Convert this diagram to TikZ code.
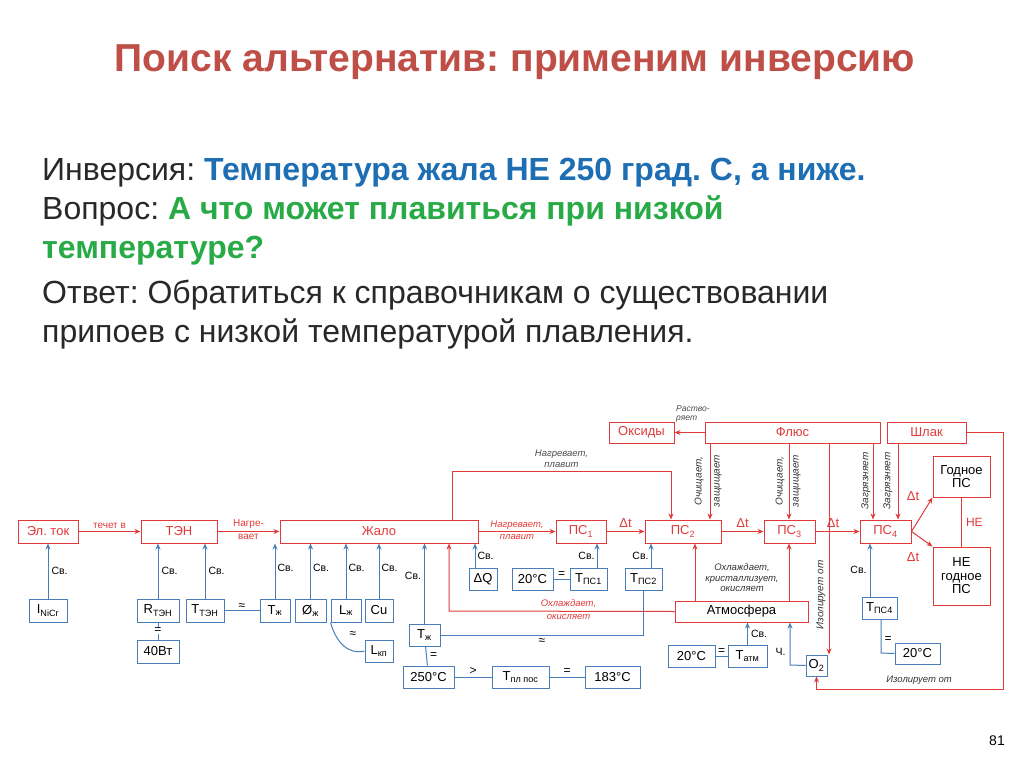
\documentclass[tikz,border=0pt]{standalone}
\usepackage{fontspec}
\setmainfont{Liberation Sans}
\usetikzlibrary{calc,arrows.meta}
\frenchspacing
\definecolor{rd}{RGB}{226,58,58}
\definecolor{bl}{RGB}{74,126,187}
\definecolor{tt}{RGB}{190,78,70}
\definecolor{tx}{RGB}{40,40,40}
\definecolor{tb}{RGB}{30,110,180}
\definecolor{tg}{RGB}{40,170,70}
\newcommand\mysb[1]{\textsubscript{#1}}
\newcommand\bx[7]{\node[#6,minimum width={(#4-#2)*1pt},minimum height={(#5-#3)*1pt}] (#1) at ({(#2+#4)/2},{(#3+#5)/2}) {#7};}
\tikzset{
 rb/.style={draw=rd,line width=1pt,text=rd,inner sep=0pt,font=\fontsize{13}{13.5}\selectfont,align=center},
 bb/.style={draw=bl,line width=1pt,text=black,inner sep=0pt,font=\fontsize{13}{13.5}\selectfont},
 ra/.style={draw=rd,line width=1pt,-{Stealth[length=6pt,width=5pt]}},
 rl/.style={draw=rd,line width=1pt},
 ba/.style={draw=bl,line width=1pt,-{Stealth[length=6pt,width=5pt]}},
 bl/.style={draw=bl,line width=1pt},
 lab/.style={font=\fontsize{9.5}{10.5}\selectfont\itshape,text=rd,inner sep=0pt,align=center},
 vl/.style={font=\fontsize{10}{10}\selectfont\itshape,text=black!80,inner sep=0pt,rotate=90},
 labn/.style={font=\fontsize{10.5}{11}\selectfont,text=black,inner sep=0pt},
 sym/.style={font=\fontsize{12}{12}\selectfont,text=black,inner sep=0pt},
 dt/.style={font=\fontsize{13}{13}\selectfont,text=rd,inner sep=0pt},
}
\begin{document}
\begin{tikzpicture}[x=1pt,y=-1pt]
\useasboundingbox[fill=white] (0,0) rectangle (1024,767);
\node[text=tt,font=\fontsize{39}{40}\selectfont\bfseries] (title) at (515,62) {Поиск альтернатив: применим инверсию};
\node[anchor=north west,text=tx,font=\fontsize{32}{39}\selectfont,align=left,inner sep=0pt] (body) at (42,158)
{Инверсия: \textcolor{tb}{\bfseries Температура жала НЕ 250 град. С, а ниже.}\\
Вопрос: \textcolor{tg}{\bfseries А что может плавиться при низкой}\\
\textcolor{tg}{\bfseries температуре?}\\[6pt]
Ответ: Обратиться к справочникам о существовании\\
припоев с низкой температурой плавления.};
\node[font=\fontsize{14}{14}\selectfont] (pg) at (997,741) {81};
% red boxes
\bx{el}{18}{520}{78}{543}{rb}{Эл. ток}
\bx{ten}{141}{520}{217}{543}{rb}{ТЭН}
\bx{zh}{280}{520}{478}{543}{rb}{Жало}
\bx{ps1}{556}{520}{606}{543}{rb}{ПС\mysb{1}}
\bx{ps2}{645}{520}{721}{543}{rb}{ПС\mysb{2}}
\bx{ps3}{764}{520}{815}{543}{rb}{ПС\mysb{3}}
\bx{ps4}{860}{520}{911}{543}{rb}{ПС\mysb{4}}
\bx{god}{933}{456}{990}{497}{rb}{\textcolor{black}{Годное}\\\textcolor{black}{ПС}}
\bx{ngod}{933}{547}{990}{605}{rb}{\textcolor{black}{НЕ}\\\textcolor{black}{годное}\\\textcolor{black}{ПС}}
\bx{ox}{609}{422}{674}{443}{rb}{Оксиды}
\bx{flux}{705}{422}{880}{443}{rb}{Флюс}
\bx{slag}{887}{422}{966}{443}{rb}{Шлак}
\bx{atm}{675}{601}{808}{622}{rb}{\textcolor{black}{Атмосфера}}
% blue boxes
\bx{inic}{29}{599}{67}{622}{bb}{I\mysb{NiCr}}
\bx{rten}{137}{599}{179}{622}{bb}{R\mysb{ТЭН}}
\bx{tten}{186}{599}{224}{622}{bb}{T\mysb{ТЭН}}
\bx{w40}{137}{640}{179}{663}{bb}{40Вт}
\bx{tzh}{260}{599}{290}{622}{bb}{T\mysb{ж}}
\bx{dzh}{295}{599}{326}{622}{bb}{Ø\mysb{ж}}
\bx{lzh}{331}{599}{361}{622}{bb}{L\mysb{ж}}
\bx{cu}{365}{599}{393}{622}{bb}{Cu}
\bx{lkp}{365}{640}{393}{662}{bb}{L\mysb{кп}}
\bx{tzh2}{409}{624}{440}{646}{bb}{T\mysb{ж}}
\bx{t250}{403}{666}{454}{688}{bb}{250°C}
\bx{tpl}{492}{666}{549}{688}{bb}{T\mysb{пл пос}}
\bx{t183}{585}{666}{640}{688}{bb}{183°C}
\bx{dq}{469}{568}{497}{590}{bb}{ΔQ}
\bx{t20a}{512}{568}{553}{590}{bb}{20°C}
\bx{tps1}{570}{568}{607}{590}{bb}{T\mysb{ПС1}}
\bx{tps2}{625}{568}{662}{590}{bb}{T\mysb{ПС2}}
\bx{t20b}{668}{645}{715}{667}{bb}{20°C}
\bx{tatm}{728}{645}{767}{667}{bb}{T\mysb{атм}}
\bx{o2}{806}{655}{827}{676}{bb}{O\mysb{2}}
\bx{tps4}{862}{597}{897}{619}{bb}{T\mysb{ПС4}}
\bx{t20c}{895}{643}{940}{664}{bb}{20°C}
% helper x-positions
\coordinate (x452) at (452,0);
\coordinate (x671) at (671,0);
\coordinate (x449) at (449,611);
\coordinate (x695) at (695,0);
\coordinate (x789) at (789,0);
\coordinate (x710) at (710,0);
\coordinate (x873) at (873,0);
\coordinate (x898) at (898,0);
\coordinate (x829) at (829,0);
\coordinate (x475) at (475,0);
\coordinate (x597) at (597,0);
\coordinate (x651) at (651,0);
\coordinate (x870) at (870,0);
\coordinate (x790) at (790,665);
\coordinate (x881) at (881,653);
\coordinate (x1003) at (1003,689);
% red horizontal chain
\draw[ra] (el) -- node[above=2pt,lab,font=\fontsize{10}{10}\selectfont] {течет в} (ten);
\draw[ra] (ten) -- node[above=2pt,lab,font=\fontsize{10}{10}\selectfont] {Нагре-} node[below=2pt,lab,font=\fontsize{10}{10}\selectfont] {вает} (zh);
\draw[ra] (zh) -- node[above=2pt,lab] {Нагревает,} node[below=2pt,lab] {плавит} (ps1);
\draw[ra] (ps1) -- node[above=3pt,dt] {Δt} (ps2);
\draw[ra] (ps2) -- node[above=3pt,dt] {Δt} (ps3);
\draw[ra] (ps3) -- node[above=3pt,dt,pos=0.4] {Δt} (ps4);
\draw[ra] (ps4.east) -- (god.south west);
\draw[ra] (ps4.east) -- (ngod.north west);
\node[dt] (dt1) at (913,496) {Δt};
\node[dt] (dt2) at (913,557) {Δt};
\draw[rl] (god) -- node[right=4pt,text=rd,font=\fontsize{12}{12}\selectfont,inner sep=0pt] {НЕ} (ngod);
% top arc
\draw[ra] (zh.north -| x452) -- (x452 |- 0,471) -- node[above=3pt,lab,text=black!70] {Нагревает,\\плавит} (x671 |- 0,471) -- (ps2.north -| x671);
% atmosphere to zhalo
\draw[ra] (atm.west) -- node[lab,above=3pt,pos=0.47] {Охлаждает,} node[lab,below=3pt,pos=0.47] {окисляет} (x449) -- (zh.south -| x449);
\draw[ra] (atm.north -| x695) -- (ps2.south -| x695);
\draw[ra] (atm.north -| x789) -- (ps3.south -| x789);
\node[lab,text=black!80] (atmlab) at (742,578) {Охлаждает,\\кристаллизует,\\окисляет};
% flux
\draw[ra] (flux.west) -- (ox.east);
\node[lab,text=black!70,font=\fontsize{8.5}{9}\selectfont\itshape,align=left] (rastv) at (693,414) {Раство-\\ряет};
\draw[ra] (flux.south -| x710) -- (ps2.north -| x710);
\draw[ra] (flux.south -| x789) -- (ps3.north -| x789);
\draw[ra] (flux.south -| x873) -- (ps4.north -| x873);
\draw[ra] (slag.south -| x898) -- (ps4.north -| x898);
\draw[ra] (flux.south -| x829) -- (o2.north -| x829);
\node[vl] (l1) at (699,481) {Очищает,};
\node[vl] (l2) at (718,481) {защищает};
\node[vl] (l3) at (780,481) {Очищает,};
\node[vl] (l4) at (797,481) {защищает};
\node[vl] (l5) at (866,481) {Загрязняет};
\node[vl] (l6) at (888,481) {Загрязняет};
\node[vl] (l7) at (821,595) {Изолирует от};
% slag loop
\draw[ra] (slag.east) -- (slag.east -| x1003) -- (x1003) -- node[above=4pt,lab,text=black!80,pos=0.45] {Изолирует от} (o2.south |- x1003) -- (o2.south);
% blue connectors
\draw[ba] (inic) -- node[right=3pt,labn] {Св.} (el);
\draw[ba] (rten) -- node[right=3pt,labn] {Св.} (rten |- ten.south);
\draw[ba] (tten) -- node[right=3pt,labn] {Св.} (tten |- ten.south);
\draw[bl] (rten) -- node[fill=white,sym] {=} (w40);
\draw[bl] (tten) -- node[above=1pt,sym] {≈} (tzh);
\draw[ba] (tzh) -- node[right=2pt,labn,pos=0.55] {Св.} (tzh |- zh.south);
\draw[ba] (dzh) -- node[right=2pt,labn,pos=0.55] {Св.} (dzh |- zh.south);
\draw[ba] (lzh) -- node[right=2pt,labn,pos=0.55] {Св.} (lzh |- zh.south);
\draw[ba] (cu) -- node[right=2pt,labn,pos=0.55] {Св.} (cu |- zh.south);
\draw[bl] (lzh.south west) .. controls (336,642) and (348,655) .. (lkp.west);
\node[sym] (apx) at (353,635) {≈};
\draw[ba] (tzh2) -- node[left=3pt,labn,pos=0.6] {Св.} (tzh2 |- zh.south);
\draw[bl] (tzh2) -- node[right=3pt,sym] {=} (t250);
\draw[bl] (t250) -- node[above=2pt,sym] {>} (tpl);
\draw[bl] (tpl) -- node[above=2pt,sym] {=} (t183);
\draw[bl] (tzh2.east) -- node[below=3pt,sym] {≈} (tzh2.east -| tps2) -- (tps2.south);
\draw[ba] (dq.north -| x475) -- node[right=2pt,labn] {Св.} (zh.south -| x475);
\draw[bl] (t20a) -- node[above=1pt,sym] {=} (tps1);
\draw[ba] (tps1.north -| x597) -- node[left=2pt,labn] {Св.} (ps1.south -| x597);
\draw[ba] (tps2.north -| x651) -- node[left=2pt,labn] {Св.} (ps2.south -| x651);
\draw[bl] (t20b) -- node[above=1pt,sym] {=} (tatm);
\draw[ba] (tatm.north) -- node[right=3pt,labn] {Св.} (tatm |- atm.south);
\draw[ba] (o2.west) -- (x790) -- node[left=4pt,labn,pos=0.3] {Ч.} (atm.south -| x790);
\draw[ba] (tps4.north -| x870) -- node[left=3pt,labn] {Св.} (ps4.south -| x870);
\draw[bl] (t20c.west) -- (x881) -- node[right=3pt,sym,pos=0.4] {=} (tps4.south -| x881);
\end{tikzpicture}
\end{document}
